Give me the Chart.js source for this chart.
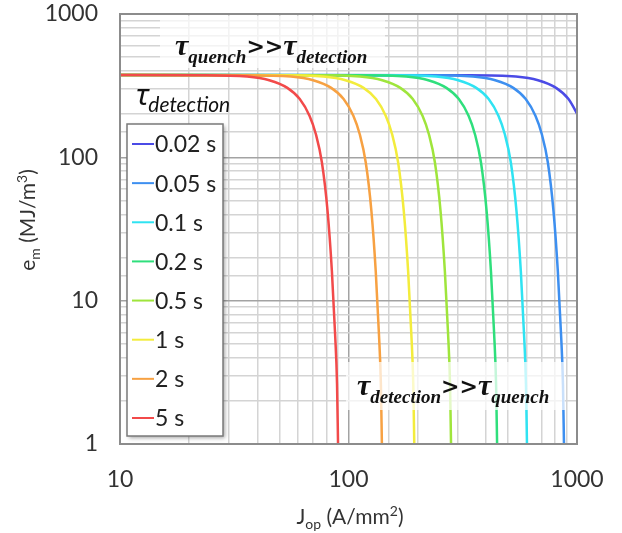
<!DOCTYPE html>
<html>
<head>
<meta charset="utf-8">
<script src="https://cdn.jsdelivr.net/npm/chart.js@4.4.1/dist/chart.umd.min.js"></script>
<style>
html, body { margin:0; padding:0; background:#fff; }
#wrap { width:622px; height:533px; }
</style>
</head>
<body>
<div id="wrap"><canvas id="canvasG1"></canvas></div>
<script>
//검출시간 라벨 (범례 순서)
var tdLabels = ['0.02 s', '0.05 s', '0.1 s', '0.2 s', '0.5 s', '1 s', '2 s', '5 s'];
//축 눈금
var xTicks = [10, 100, 1000];
var yTicks = [1, 10, 100, 1000];

//곡선별 데이터 : Jop (A/mm2) , em (MJ/m3)
var jop_002 = [10, 337.5, 540, 675, 810, 918, 1012.5];
var em_002  = [375, 374, 366, 345, 305, 255, 195];
var jop_005 = [10, 219.3, 350.8, 438.5, 526.2, 596.4, 657.8, 701.6, 745.5, 789.3, 824.4, 850.7, 868.2, 877];
var em_005  = [375, 374, 366, 345, 305, 255, 195, 145, 92, 42, 16, 6, 2.6, 1];
var jop_01  = [10, 151, 241.6, 302, 362.4, 410.7, 453, 483.2, 513.4, 543.6, 567.8, 585.9, 598, 604];
var em_01   = [375, 374, 366, 345, 305, 255, 195, 145, 92, 42, 16, 6, 2.6, 1];
var jop_02  = [10, 111.8, 178.8, 223.5, 268.2, 304, 335.3, 357.6, 380, 402.3, 420.2, 433.6, 442.5, 447];
var em_02   = [375, 374, 366, 345, 305, 255, 195, 145, 92, 42, 16, 6, 2.6, 1];
var jop_05  = [10, 70.3, 112.4, 140.5, 168.6, 191.1, 210.8, 224.8, 238.9, 252.9, 264.1, 272.6, 278.2, 281];
var em_05   = [375, 374, 366, 345, 305, 255, 195, 145, 92, 42, 16, 6, 2.6, 1];
var jop_1   = [10, 48.5, 77.6, 97, 116.4, 131.9, 145.5, 155.2, 164.9, 174.6, 182.4, 188.2, 192.1, 194];
var em_1    = [375, 374, 366, 345, 305, 255, 195, 145, 92, 42, 16, 6, 2.6, 1];
var jop_2   = [10, 35, 56, 70, 84, 95.2, 105, 112, 119, 126, 131.6, 135.8, 138.6, 140];
var em_2    = [375, 374, 366, 345, 305, 255, 195, 145, 92, 42, 16, 6, 2.6, 1];
var jop_5   = [10, 22.5, 36, 45, 54, 61.2, 67.5, 72, 76.5, 81, 84.6, 87.3, 89.1, 90];
var em_5    = [375, 374, 366, 345, 305, 255, 195, 145, 92, 42, 16, 6, 2.6, 1];

var jopList = [jop_002, jop_005, jop_01, jop_02, jop_05, jop_1, jop_2, jop_5];
var emList  = [em_002, em_005, em_01, em_02, em_05, em_1, em_2, em_5];
var lineColors = ['#4b4be6', '#3d8ff0', '#2fe3f2', '#2fdf7c', '#9fe53c', '#f3ec3c', '#f7a142', '#f24a4a'];

function isDecade(v){
	var l = Math.log10(v);
	return Math.abs(l - Math.round(l)) < 1e-9;
}

//서브/슈퍼스크립트 텍스트 그리기 (가운데 정렬)
function drawParts(ctx, parts, x, y){
	var w = 0, i;
	for(i=0;i<parts.length;i++){ ctx.font = parts[i].f; w += ctx.measureText(parts[i].t).width; }
	var cx = x - w/2;
	ctx.textBaseline = 'alphabetic';
	ctx.textAlign = 'left';
	for(i=0;i<parts.length;i++){
		ctx.font = parts[i].f;
		ctx.fillText(parts[i].t, cx, y + (parts[i].dy || 0));
		cx += ctx.measureText(parts[i].t).width;
	}
}
//왼쪽 정렬
function drawSeq(ctx, parts, x, y){
	var cx = x;
	ctx.textBaseline = 'alphabetic';
	ctx.textAlign = 'left';
	for(var i=0;i<parts.length;i++){
		ctx.font = parts[i].f;
		ctx.fillText(parts[i].t, cx, y + (parts[i].dy || 0));
		cx += ctx.measureText(parts[i].t).width;
	}
}

var decoPlugin = {
	id: 'deco',
	afterDraw: function(chart){
		var ctx = chart.ctx;
		var ca = chart.chartArea;
		ctx.save();
		//테두리
		ctx.strokeStyle = '#8c8c8c';
		ctx.lineWidth = 2;
		ctx.strokeRect(ca.left, ca.top, ca.right - ca.left, ca.bottom - ca.top);

		//주석 배경
		ctx.fillStyle = 'rgba(255,255,255,0.72)';
		ctx.fillRect(160, 16, 225, 52);
		ctx.fillRect(346, 362, 219, 48);

		ctx.fillStyle = '#111';
		var tb = 'bold italic 30px "Liberation Serif"';
		var sb = 'bold italic 19px "Liberation Serif"';
		var gb = 'bold 22px "DejaVu Serif"';
		drawSeq(ctx, [
			{t:'\u03c4', f:tb}, {t:'quench', f:sb, dy:8}, {t:'>>', f:gb, dy:-1},
			{t:'\u03c4', f:tb}, {t:'detection', f:sb, dy:8}
		], 175, 55);
		drawSeq(ctx, [
			{t:'\u03c4', f:tb}, {t:'detection', f:sb, dy:8}, {t:'>>', f:gb, dy:-1},
			{t:'\u03c4', f:tb}, {t:'quench', f:sb, dy:8}
		], 357, 395);
		drawSeq(ctx, [
			{t:'\u03c4', f:'italic 30px "Noto Sans"'}, {t:'detection', f:'italic 21px Lato', dy:7}
		], 136, 105);

		//범례
		ctx.save();
		ctx.shadowColor = 'rgba(0,0,0,0.35)';
		ctx.shadowBlur = 4;
		ctx.shadowOffsetX = 2;
		ctx.shadowOffsetY = 2;
		ctx.fillStyle = '#fff';
		ctx.fillRect(127, 124, 96, 312);
		ctx.restore();
		ctx.strokeStyle = '#7a7a7a';
		ctx.lineWidth = 1.5;
		ctx.strokeRect(127, 124, 96, 312);
		ctx.font = '23px Lato';
		ctx.textBaseline = 'middle';
		ctx.textAlign = 'left';
		for(var i=0;i<tdLabels.length;i++){
			var yy = 144 + i*39.14;
			ctx.strokeStyle = lineColors[i];
			ctx.lineWidth = 2;
			ctx.beginPath(); ctx.moveTo(132, yy); ctx.lineTo(154, yy); ctx.stroke();
			ctx.fillStyle = '#222';
			ctx.fillText(tdLabels[i], 155, yy + 1);
		}

		//축 제목
		ctx.fillStyle = '#333';
		var tf = '21px Lato', sf = '14px Lato';
		drawParts(ctx, [{t:'J', f:tf}, {t:'op', f:sf, dy:5}, {t:' (A/mm', f:tf}, {t:'2', f:sf, dy:-8}, {t:')', f:tf}], 350, 524);
		ctx.save();
		ctx.translate(35, 220);
		ctx.rotate(-Math.PI/2);
		drawParts(ctx, [{t:'e', f:tf}, {t:'m', f:sf, dy:5}, {t:' (MJ/m', f:tf}, {t:'3', f:sf, dy:-8}, {t:')', f:tf}], 0, 0);
		ctx.restore();
		ctx.restore();
	}
};

var datasets = [];
for(var k=0;k<tdLabels.length;k++){
	var pts = [];
	for(var j=0;j<jopList[k].length;j++){
		pts.push({x: jopList[k][j], y: emList[k][j]});
	}
	datasets.push({
		label: tdLabels[k],
		data: pts,
		borderColor: lineColors[k],
		backgroundColor: lineColors[k],
		borderWidth: 2.5,
		pointRadius: 0,
		fill: false,
		cubicInterpolationMode: 'monotone',
		order: tdLabels.length - 1 - k
	});
}

function gridColor(c){
	if(c.tick && isDecade(c.tick.value)) return '#a3a3a3';
	return '#d4d4d4';
}

var ctx = document.getElementById('canvasG1').getContext('2d');
window.myLineG1 = new Chart(ctx, {
	type: 'line',
	data: { datasets: datasets },
	options: {
		responsive: true,
		maintainAspectRatio: false,
		animation: false,
		devicePixelRatio: 1,
		layout: { padding: { top: 14, right: 45, left: 0, bottom: 0 } },
		plugins: { legend: { display: false }, tooltip: { enabled: false } },
		scales: {
			x: {
				type: 'logarithmic',
				min: 10, max: 1000,
				afterFit: function(s){ s.height = 89; s.paddingLeft = 0; s.paddingRight = 0; },
				grid: { color: gridColor, lineWidth: 1.5, drawTicks: false },
				border: { display: false },
				ticks: {
					autoSkip: false, maxRotation: 0, padding: 22,
					color: '#333', font: { family: 'Lato', size: 23 },
					callback: function(v){ return xTicks.indexOf(v) >= 0 ? String(v) : ''; }
				}
			},
			y: {
				type: 'logarithmic',
				min: 1, max: 1000,
				afterFit: function(s){ s.width = 120; s.paddingTop = 0; s.paddingBottom = 0; },
				grid: { color: gridColor, lineWidth: 1.5, drawTicks: false },
				border: { display: false },
				ticks: {
					autoSkip: false, padding: 22,
					color: '#333', font: { family: 'Lato', size: 23 },
					callback: function(v){ return yTicks.indexOf(v) >= 0 ? String(v) : ''; }
				}
			}
		}
	},
	plugins: [decoPlugin]
});
</script>
</body>
</html>
